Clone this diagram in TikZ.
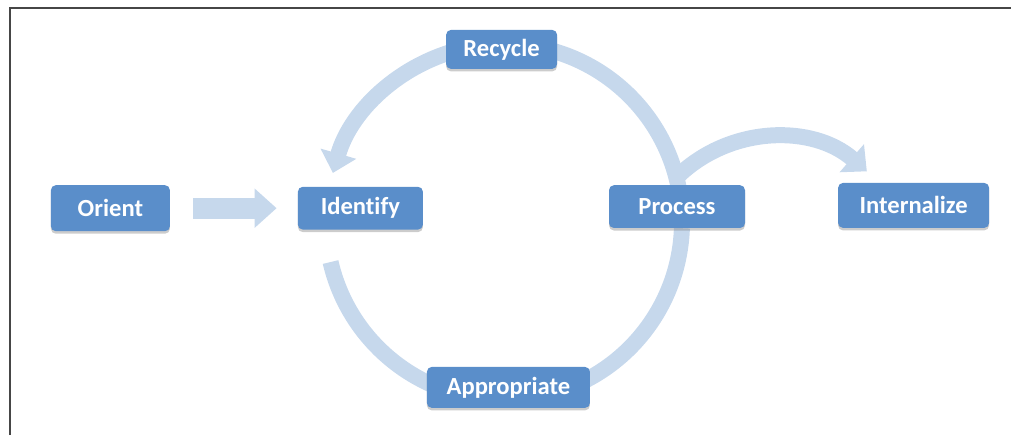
\documentclass[tikz,border=0pt]{standalone}
\usepackage{fontspec}
\setmainfont{Carlito}[Ligatures=NoCommon]
\usetikzlibrary{arrows.meta,shadows}

\definecolor{stageblue}{RGB}{90,142,202}
\definecolor{bandblue}{RGB}{198,216,236}
\definecolor{framegray}{RGB}{70,70,70}

\tikzset{
  stage/.style={rectangle,rounded corners=3.5pt,fill=stageblue,text=white,
    minimum height=1.07cm,inner sep=0pt,font=\fontsize{17.5}{20}\selectfont\bfseries,
    drop shadow={shadow xshift=0pt,shadow yshift=-1.8pt,opacity=0.4}},
  band/.style={line width=0.4cm,draw=bandblue},
  bandtip/.style={band,-{Triangle[width=0.9cm,length=0.5cm]}},
}

\begin{document}
\begin{tikzpicture}
  \useasboundingbox (0,0) rectangle (25.275,10.875);
  \draw[framegray,line width=1.3pt] (0.25,0) -- (0.25,10.675) -- (25.275,10.675);
  \coordinate (hub) at (12.6,5.325);
  \coordinate (bend) at (19.375,3.95);
  % the cycle, drawn under the stages
  \draw[bandtip] ([shift={(100:4.45)}]hub) arc[start angle=100,end angle=164,radius=4.45cm];
  \draw[band] ([shift={(80:4.45)}]hub) arc[start angle=80,end angle=5,radius=4.45cm];
  \draw[band] ([shift={(-2:4.45)}]hub) arc[start angle=-2,end angle=-70,radius=4.45cm];
  \draw[band] ([shift={(193:4.45)}]hub) arc[start angle=193,end angle=255,radius=4.45cm];
  \draw[bandtip] ([shift={(133:3.5)}]bend) arc[start angle=133,end angle=49,radius=3.5cm];

  \node[stage,minimum width=2.975cm,minimum height=1.15cm] (orient) at (2.76,5.67) {Orient};
  \node[stage,minimum width=3.125cm] (identify) at (9.01,5.67) {Identify};
  \node[stage,minimum width=2.775cm,minimum height=0.975cm] (recycle) at (12.54,9.64) {Recycle};
  \node[stage,minimum width=3.4cm] (process) at (16.925,5.71) {Process};
  \node[stage,minimum width=3.775cm,minimum height=1.125cm] (internalize) at (22.84,5.74) {Internalize};
  \node[stage,minimum width=4.075cm,minimum height=1.025cm] (appropriate) at (12.71,1.19) {Appropriate};

  \draw[band,line width=0.525cm,-{Triangle[width=0.95cm,length=0.55cm]},
    shorten <=0.575cm,shorten >=0.525cm] (orient) -- (identify);
\end{tikzpicture}
\end{document}
